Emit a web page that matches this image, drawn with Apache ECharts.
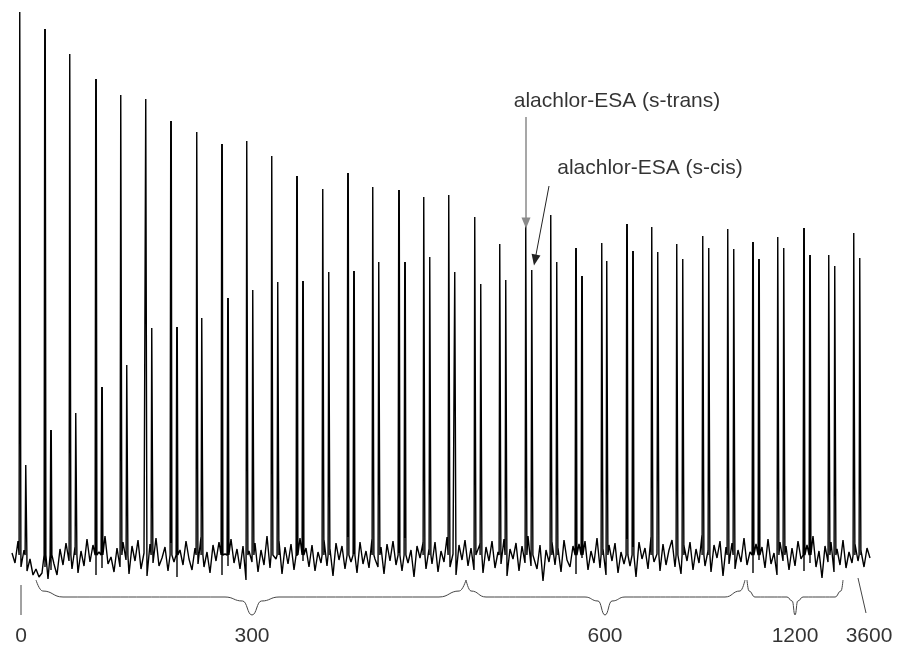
<!DOCTYPE html>
<html lang="en">

<head>
    <meta charset="UTF-8">
    <title>alachlor-ESA injections</title>
    <script src="https://cdn.jsdelivr.net/npm/echarts@6/dist/echarts.min.js"></script>
    <style>
        html, body { margin: 0; padding: 0; background: #fff; }
    </style>
</head>

<body>
    <div id="mycharts" style="width: 897px;height:646px;"></div>
    <script>
        // scan index of each injection (s-trans peak) and its signal
        var transScan = [20, 45, 70, 96, 121, 146, 171, 197, 222, 247, 272, 297, 323, 348, 373, 399, 424,
            449, 475, 500, 526, 551, 576, 602, 627, 652, 677, 703, 728, 753, 778, 804, 829, 854]
        var transSignal = [543, 526, 501, 476, 460, 456, 434, 423, 411, 414, 399, 379, 366, 382, 368, 365, 358,
            360, 338, 311, 331, 340, 307, 312, 331, 328, 311, 319, 326, 313, 318, 327, 300, 322]
        // s-cis peak that follows each s-trans peak
        var cisScan = [26, 51, 76, 102, 127, 152, 177, 202, 228, 253, 278, 303, 329, 354, 379, 405, 430,
            455, 481, 506, 532, 557, 582, 607, 633, 658, 683, 709, 734, 759, 784, 810, 835, 860]
        var cisSignal = [90, 125, 142, 168, 190, 227, 228, 237, 257, 265, 273, 274, 283, 284, 293, 293, 298,
            283, 271, 275, 285, 293, 279, 294, 304, 303, 296, 307, 306, 296, 307, 300, 289, 297]

        // baseline noise, one reading every 3 scans from scan 12
        var noiseFirstScan = 12
        var noiseEvery = 3
        var noise = [
            2, -8, 14, -12, 5, -16, -4, -20, -14, -22, -18, -12, -24, -15, -9, -20, 6, -10, 12, -6,
            -14, 8, -18, 4, -11, 16, -7, 10, -20, 3, -13, 19, -9, -2, -17, 7, -12, 13, -5, -19,
            9, -6, 15, -14, 2, -21, 11, -8, 17, -11, -3, 8, -16, 12, -7, -22, 5, -10, 14, -4,
            -15, 7, -9, 18, -12, 3, -18, 10, -6, 13, -20, 1, -11, 16, -8, 6, -14, 9, -25, 4,
            -7, 12, -17, 5, -10, 19, -13, 2, -4, 14, -19, 8, -9, 11, -15, -1, 17, -6, 7, -12,
            10, -16, 3, -8, 15, -11, 6, -21, 12, -5, 9, -14, 18, -7, 1, -18, 13, -9, 4, -13,
            16, -4, -12, 8, -19, 11, -6, 14, -10, 2, -16, 17, -8, 5, -22, 9, -3, 12, -14, 6,
            -9, 13, -17, 4, -7, 18, -12, 1, -20, 10, -5, 15, -11, 7, -15, -2, 11, -18, 8, -6,
            14, -13, 3, -9, 16, -21, 6, -4, 12, -16, 9, -8, 19, -11, 2, -14, 10, -26, 5, -7,
            13, -10, 7, -17, 15, -5, -12, 9, -19, 11, -3, 14, -15, 4, -8, 17, -13, 6, -20, 10,
            -6, 12, -18, 3, -9, 16, -11, 8, -22, 13, -4, 7, -14, 18, -7, 1, -16, 11, -10, 5,
            15, -12, 2, -19, 9, -6, 13, -15, 6, -8, 20, -11, 4, -17, 10, -3, 14, -21, 8, -9,
            12, -14, 5, -7, 17, -10, 3, -18, 11, -5, 8, -13, 16, -9, 2, -20, 13, -6, 9, -15,
            7, -11, 14, -4, -16, 10, -8, 19, -12, 4, -23, 9, -7, 13, -17, 6, -10, 15, -13, 3,
            -8, 11, -6, 4, -12, 7, -3
        ]

        // groups of injections
        var groupLabels = ['0', '300', '600', '1200', '3600']
        var groupMid = [21, 252, 605, 795, 869]
        var braceStart = [null, 36, 466, 747, null]
        var braceEnd = [null, 466, 745, 843, null]

        var trace = []
        for (var i = 0; i < noise.length; i++) {
            trace.push([noiseFirstScan + i * noiseEvery, noise[i]])
        }
        function addPeak(x, h) {
            trace.push([x - 0.9, 0], [x - 0.25, h], [x + 0.25, h], [x + 0.9, 0])
        }
        for (var i = 0; i < transScan.length; i++) addPeak(transScan[i], transSignal[i])
        for (var i = 0; i < cisScan.length; i++) addPeak(cisScan[i], cisSignal[i])
        trace.sort(function (a, b) { return a[0] - b[0] })

        function brace(s, t, e, c) {
            return [[s, -25], [s + 0.25 * c, -36], [s + c, -42], [t - c, -42], [t - 0.35 * c, -46], [t, -60],
                [t + 0.35 * c, -46], [t + c, -42], [e - c, -42], [e - 0.25 * c, -36], [e, -25]]
        }

        var chart = echarts.init(document.getElementById('mycharts'))
        var font = '"Liberation Sans", Arial, sans-serif'
        var series = [{
            type: 'line',
            data: trace,
            symbol: 'none',
            animation: false,
            lineStyle: { color: '#000', width: 1.4 },
            markLine: {
                silent: true,
                symbol: ['none', 'triangle'],
                symbolSize: [9, 11],
                label: { show: false },
                data: [
                    [{ coord: [526, 438], lineStyle: { color: '#8a8a8a', width: 1.5, type: 'solid' } },
                        { coord: [526, 332] }],
                    [{ coord: [549, 369], lineStyle: { color: '#222', width: 1, type: 'solid' } },
                        { coord: [535, 295] }]
                ]
            }
        }]
        var braceWidth = [0, 27, 20, 8, 0]
        for (var i = 0; i < groupLabels.length; i++) {
            if (braceStart[i] === null) continue
            series.push({
                type: 'line',
                data: brace(braceStart[i], groupMid[i], braceEnd[i], braceWidth[i]),
                symbol: 'none',
                smooth: 0.5,
                smoothMonotone: 'x',
                lineStyle: { color: '#444', width: 1 }
            })
        }
        // leader lines for the single runs
        series.push({ type: 'line', data: [[21, -30], [21, -60]], symbol: 'none', lineStyle: { color: '#444', width: 1 } })
        series.push({ type: 'line', data: [[858, -23], [866, -58]], symbol: 'none', lineStyle: { color: '#444', width: 1 } })
        series.push({
            type: 'scatter',
            symbolSize: 0,
            data: groupLabels.map(function (t, i) { return [groupMid[i], -81, t] }),
            label: {
                show: true, position: 'inside', formatter: function (p) { return p.value[2] },
                fontSize: 21, color: '#000', fontFamily: font
            }
        })
        series.push({
            type: 'scatter',
            symbolSize: 0,
            data: [[617, 454, 'alachlor-ESA (s-trans)'], [650, 387, 'alachlor-ESA (s-cis)']],
            label: {
                show: true, position: 'inside', formatter: function (p) { return p.value[2] },
                fontSize: 21, color: '#000', fontFamily: font
            }
        })

        chart.setOption({
            animation: false,
            grid: { left: 0, right: 0, top: 0, bottom: 0 },
            xAxis: { type: 'value', min: 0, max: 897, show: false },
            yAxis: { type: 'value', min: -91, max: 555, show: false },
            series: series
        })
    </script>

</body>

</html>
